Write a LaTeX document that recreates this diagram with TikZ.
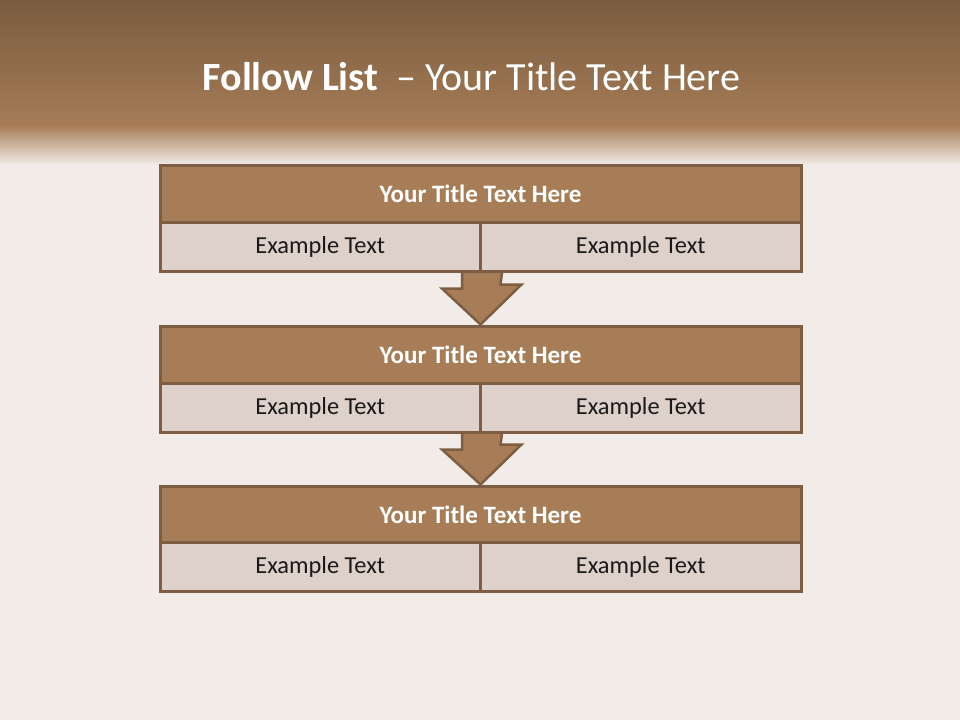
\documentclass[tikz,border=0pt]{standalone}
\usepackage{fontspec}
\setmainfont{Carlito}
\usepackage{tikz}
\usetikzlibrary{calc,positioning}
\definecolor{bandtop}{HTML}{7A5B3F}
\definecolor{bandlow}{HTML}{A57C56}
\definecolor{paper}{HTML}{F1ECE7}
\definecolor{rowbrown}{HTML}{A67D56}
\definecolor{cellgray}{HTML}{DDD1C9}
\definecolor{edgebrown}{HTML}{7E5E42}
\pgfdeclarelayer{paperlayer}
\pgfdeclarelayer{arrowlayer}
\pgfsetlayers{paperlayer,arrowlayer,main}

\begin{document}
\begin{tikzpicture}[x=1pt,y=-1pt,
 titlerow/.style={draw=edgebrown,fill=rowbrown,line width=3pt,minimum width=641pt,minimum height=57pt,inner sep=0pt,text=white,font=\fontsize{25}{29}\selectfont\bfseries},
 cell/.style={draw=edgebrown,fill=cellgray,line width=3pt,minimum width=320.5pt,minimum height=49pt,inner sep=0pt,text=black!90,font=\fontsize{24.4}{28}\selectfont},
 blockarr/.style={draw=edgebrown,fill=rowbrown,line width=2.5pt,line join=miter}]
% background
\begin{pgfonlayer}{paperlayer}
\fill[paper] (0,0) rectangle (960,720);
\shade[top color=bandtop,bottom color=bandlow] (0,0) rectangle (960,125);
\shade[top color=bandlow,bottom color=paper] (0,125) rectangle (960,165);
\end{pgfonlayer}
\node[text=white,font=\fontsize{40}{46}\selectfont] (head) at (471.5,77) {\textbf{Follow List}\ \ – Your Title Text Here};
% first block
\node[titlerow] (t1) at (480.5,193.5) {Your Title Text Here};
\node[cell] (a1) at (320.25,246.5) {Example Text};
\node[cell] (b1) at (640.75,246.5) {Example Text};
% second block
\node[titlerow] (t2) at (480.5,354.5) {Your Title Text Here};
\node[cell] (a2) at (320.25,407.5) {Example Text};
\node[cell] (b2) at (640.75,407.5) {Example Text};
% third block
\node[titlerow] (t3) at (480.5,514.5) {Your Title Text Here};
\node[cell] (a3) at (320.25,566.5) {Example Text};
\node[cell] (b3) at (640.75,566.5) {Example Text};
% arrows
\begin{pgfonlayer}{arrowlayer}
\draw[blockarr] ($(a1.south east)+(-20,0)$)--++(0,16)--++(-20,0)--(t2.north)--++(41,-40)--++(-21,0)--($(a1.south east)+(20,0)$);
\draw[blockarr] ($(a2.south east)+(-20,0)$)--++(0,16)--++(-20,0)--(t3.north)--++(41,-40)--++(-21,0)--($(a2.south east)+(20,0)$);
\end{pgfonlayer}
\end{tikzpicture}
\end{document}
